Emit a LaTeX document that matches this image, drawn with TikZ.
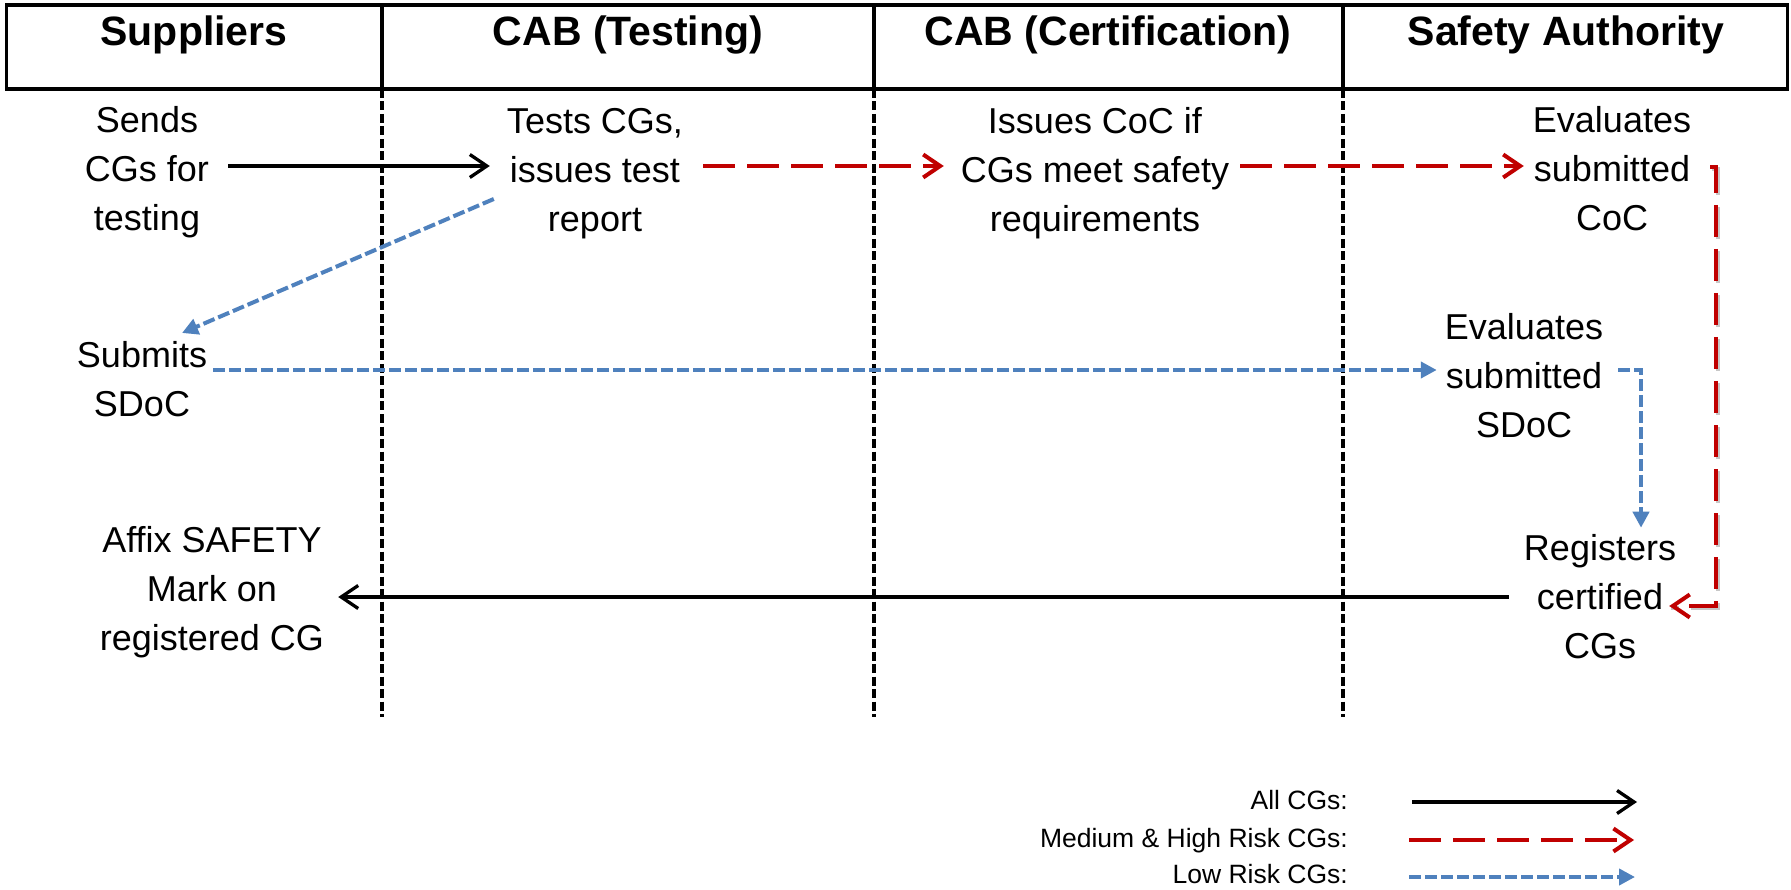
\documentclass[tikz,border=0pt]{standalone}
\usepackage{fontspec}
\setmainfont{Liberation Sans}
\usetikzlibrary{arrows.meta,calc}
\definecolor{pptred}{RGB}{192,0,0}
\definecolor{pptblue}{RGB}{79,129,189}
\begin{document}
\begin{tikzpicture}[x=1pt,y=-1pt,
  hdr/.style={font=\fontsize{41}{48}\selectfont\bfseries, anchor=base, inner sep=0pt},
  txt/.style={font=\fontsize{36}{49}\selectfont, align=center, anchor=base, inner sep=0pt},
  leg/.style={font=\fontsize{26.5}{30}\selectfont, anchor=base east, inner sep=0pt},
  frame/.style={line width=3.5pt},
  lane/.style={line width=3.2pt, dash pattern=on 9pt off 3.5pt},
  allcg/.style={line width=3.3pt, -{Straight Barb[length=17pt,width=23pt]}},
  medcg/.style={pptred, line width=4pt, dash pattern=on 32pt off 12pt, -{Straight Barb[length=17pt,width=23pt]}},
  lowcg/.style={pptblue, line width=4pt, dash pattern=on 12pt off 4pt, -{Triangle[length=16pt,width=16pt]}},
  shadow/.style={black!22, line width=4pt, dash pattern=on 32pt off 12pt, transform canvas={shift={(2pt,-2pt)}}},
]
\useasboundingbox (0,0) rectangle (1791,890);
\fill[white] (0,0) rectangle (1791,890);

% header frame and lanes
\draw[frame] (6.5,5) rectangle (1787.5,89);
\foreach \x in {382,874,1343} {
  \draw[frame] (\x,5) -- (\x,89);
  \draw[lane] (\x,89) -- (\x,717);
}

% headers
\node[hdr] (hsup) at (194,46) {Suppliers};
\node[hdr] (htest) at (628,46) {CAB (Testing)};
\node[hdr] (hcert) at (1108,46) {CAB (Certification)};
\node[hdr] (hauth) at (1566,46) {Safety Authority};

% steps (base anchor = baseline of the last line)
\node[txt] (sends) at (147,231) {Sends\\CGs for\\testing};
\node[txt] (tests) at (595,232) {Tests CGs,\\issues test\\report};
\node[txt] (issues) at (1095,232) {Issues CoC if\\CGs meet safety\\requirements};
\node[txt] (evalcoc) at (1612,231) {Evaluates\\submitted\\CoC};
\node[txt] (submits) at (142,417) {Submits\\SDoC};
\node[txt] (evalsdoc) at (1524,437) {Evaluates\\submitted\\SDoC};
\node[txt] (registers) at (1600,658) {Registers\\certified\\CGs};
\node[txt] (affix) at (212,650) {Affix SAFETY\\Mark on\\registered CG};

% connectors
\draw[allcg] ([xshift=19]sends.east |- 0,166) -- ([xshift=-17]tests.west |- 0,166);
\draw[medcg] ([xshift=20]tests.east |- 0,166) -- ([xshift=-17]issues.west |- 0,166);
\draw[medcg] ([xshift=11]issues.east |- 0,166) -- ([xshift=-9]evalcoc.west |- 0,166);
\draw[shadow] ([xshift=19]evalcoc.east |- 0,167) -- ++(6,0) |- ([xshift=-7]registers.east |- 0,606);
\draw[medcg] ([xshift=19]evalcoc.east |- 0,167) -- ++(6,0) |- ([xshift=-7]registers.east |- 0,606);
\draw[lowcg] ([xshift=-13]tests.west |- 0,199) -- ([xshift=40]submits.north |- 0,333);
\draw[lowcg] ([xshift=6]submits.east |- 0,370) -- ([xshift=-8]evalsdoc.west |- 0,370);
\draw[lowcg] ([xshift=15]evalsdoc.east |- 0,370) -| ($(registers.north)+(41,-6)$);
\draw[allcg] ([xshift=-15]registers.west |- 0,597) -- ([xshift=14]affix.east |- 0,597);

% legend
\node[leg] (lall) at (1348,809) {All CGs:};
\node[leg] (lmed) at (1348,847) {Medium \& High Risk CGs:};
\node[leg] (llow) at (1348,883) {Low Risk CGs:};
\draw[allcg] ([xshift=64]lall.east |- 0,802) -- ++(225,0);
\draw[medcg] ([xshift=61]lmed.east |- 0,840) -- ++(225,0);
\draw[lowcg] ([xshift=61]llow.east |- 0,877) -- ++(226,0);
\end{tikzpicture}
\end{document}
